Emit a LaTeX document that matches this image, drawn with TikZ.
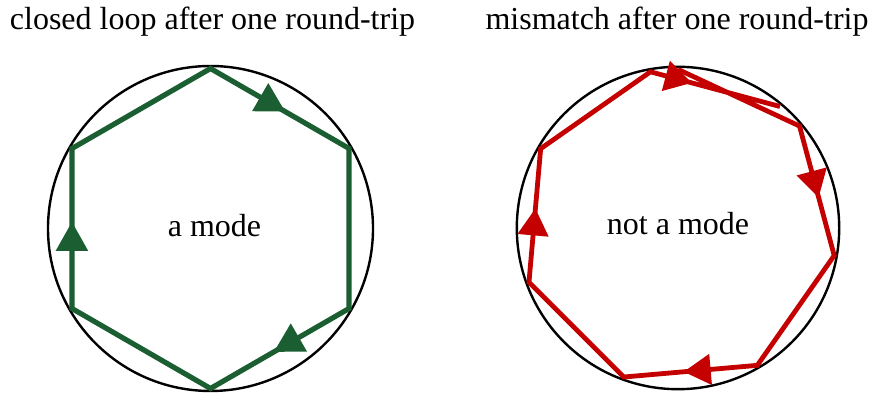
\documentclass[tikz,border=0pt]{standalone}
\usepackage{fontspec}
\setmainfont{Liberation Serif}
\usetikzlibrary{arrows.meta,decorations.markings}
\definecolor{modegreen}{HTML}{1B5E31}
\definecolor{modered}{HTML}{C40000}
\tikzset{
  ring/.style={draw=black, line width=1.2pt},
  lbl/.style={anchor=base, inner sep=0pt, font=\fontsize{16}{19}\selectfont},
  greenloop/.style={draw=modegreen, line width=2.6pt,
    postaction={decorate},
    decoration={markings,
      mark=at position 0.090 with {\arrow[modegreen]{Triangle[length=14.5pt,width=15.5pt]}},
      mark=at position 0.424 with {\arrow[modegreen]{Triangle[length=14.5pt,width=15.5pt]}},
      mark=at position 0.757 with {\arrow[modegreen]{Triangle[length=14.5pt,width=15.5pt]}}}},
  redloop/.style={draw=modered, line width=2.4pt,
    postaction={decorate},
    decoration={markings,
      mark=at position 0.194 with {\arrow[modered]{Triangle[length=13.5pt,width=15pt]}},
      mark=at position 0.444 with {\arrow[modered]{Triangle[length=13.5pt,width=15pt]}},
      mark=at position 0.694 with {\arrow[modered]{Triangle[length=13.5pt,width=15pt]}},
      mark=at position 0.915 with {\arrow[modered]{Triangle[length=13.5pt,width=15pt]}}}}
}
\begin{document}
\begin{tikzpicture}[x=0.5pt,y=0.5pt]
\useasboundingbox (0,0) rectangle (872,394);
% titles
\node[lbl] (t1) at (212.5,364) {closed loop after one round-trip};
\node[lbl] (t2) at (677,364) {mismatch after one round-trip};
% centres
\coordinate (cL) at (210.5,165.5);
\coordinate (cR) at (678,166);
% circles
\draw[ring] (cL) circle[radius=81.25pt];
\draw[ring] (cR) circle[radius=80.6pt];
% hexagon vertices
\foreach \k in {0,...,5} {
  \path (cL) ++({90-60*\k}:80pt) coordinate (g\k);
}
\draw[greenloop] (g0) -- (g1) -- (g2) -- (g3) -- (g4) -- (g5) -- cycle;
% red open path vertices
\foreach \k in {0,...,8} {
  \path (cR) ++({90-50*\k}:79.3pt) coordinate (r\k);
}
\draw[redloop] (r0) -- (r1) -- (r2) -- (r3) -- (r4) -- (r5) -- (r6) -- (r7) -- (r8);
% centre labels
\node[lbl] (m1) at (214.5,157.5) {a mode};
\node[lbl] (m2) at (678,159) {not a mode};
\end{tikzpicture}
\end{document}
